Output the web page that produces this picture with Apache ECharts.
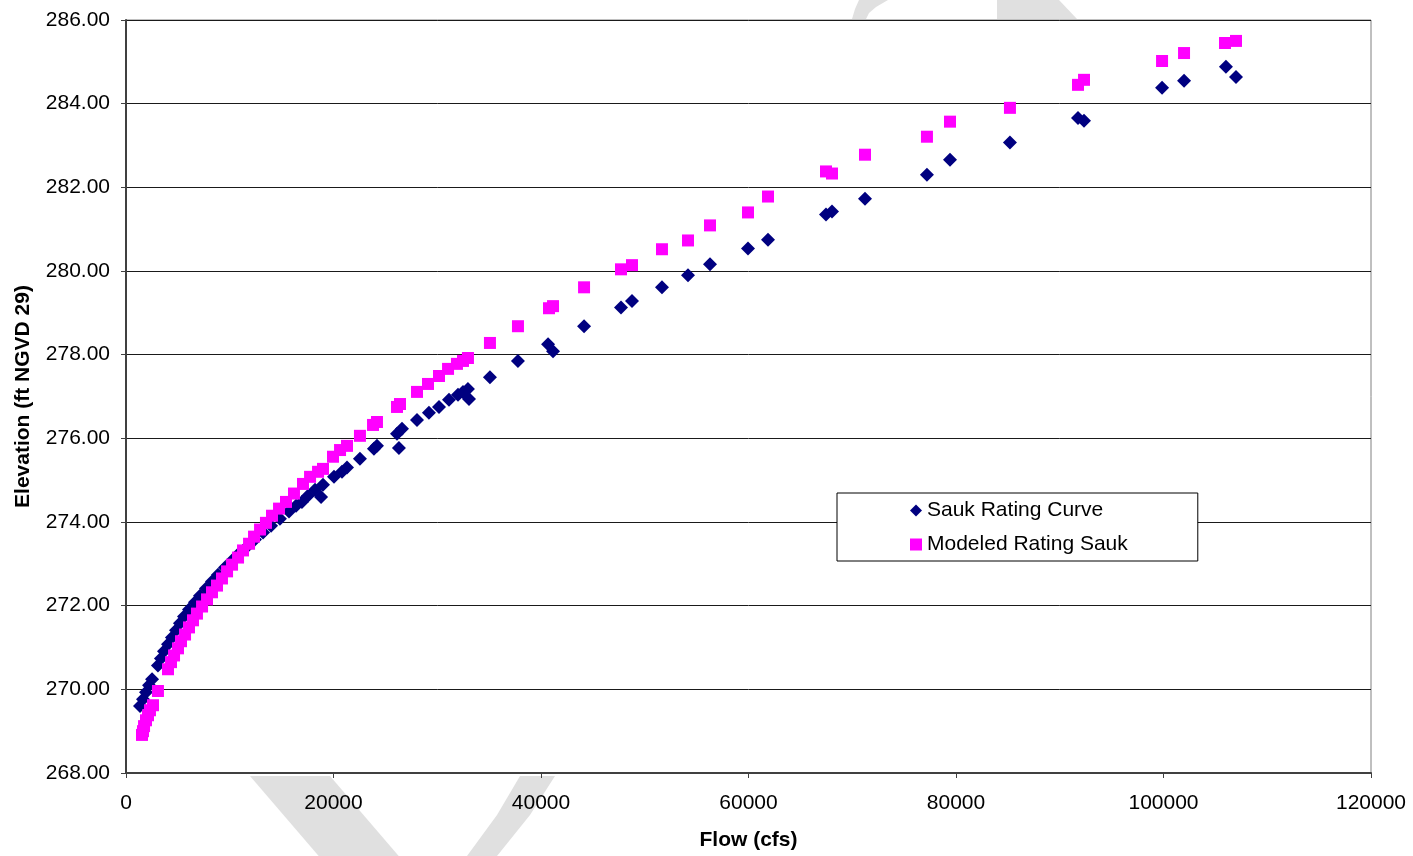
<!DOCTYPE html>
<html>
<head>
<meta charset="utf-8">
<title>Sauk Rating Curve</title>
<script src="https://cdn.jsdelivr.net/npm/echarts@6/dist/echarts.min.js"></script>
<style>
  html, body { margin: 0; padding: 0; background: #ffffff; }
  #chart { width: 1413px; height: 856px; }
</style>
</head>
<body>
<div id="chart"></div>
<script>
// Observed rating curve: flow (cfs) and stage (ft NGVD 29)
const saukFlow = [1350,1640,1930,2220,2510,3080,3370,3660,4050,4430,4820,5200,5590,6070,6650,
  7130,7710,8290,8870,9540,10220,10890,11660,12430,13210,13980,14840,15710,16390,16960,
  17540,18220,18990,18800,20050,20820,21300,22550,23900,24190,26310,26120,26600,28050,29200,
  30170,31130,32000,32480,32960,33060,35080,37780,40680,41160,44150,47710,48770,51660,54170,
  56290,59950,61880,67470,68050,71230,77200,79420,85200,91760,92340,99860,101980,106020,106990];
const saukElev = [269.60,269.76,269.93,270.10,270.24,270.57,270.74,270.91,271.08,271.24,271.41,271.58,271.74,271.91,272.08,
  272.24,272.41,272.58,272.74,272.91,273.08,273.25,273.41,273.58,273.75,273.91,274.08,274.25,274.39,274.48,
  274.63,274.77,274.89,274.60,275.08,275.20,275.30,275.51,275.75,275.82,275.77,276.11,276.23,276.44,276.61,
  276.75,276.92,277.04,277.11,277.18,276.94,277.46,277.85,278.25,278.08,278.68,279.13,279.28,279.61,279.90,
  280.16,280.54,280.75,281.35,281.42,281.73,282.30,282.66,283.07,283.66,283.59,284.38,284.55,284.88,284.64];

// Modeled rating: flow (cfs) and stage (ft NGVD 29)
const modeledFlow = [1540,1640,1740,1930,2120,2310,2600,3080,4050,4340,4630,5010,5300,5690,6070,
  6460,6840,7330,7810,8290,8770,9250,9740,10220,10800,11280,11860,12340,12920,13490,
  14070,14750,15420,16190,17060,17740,18510,18990,19950,20630,21300,22550,23810,24190,26120,
  26410,28050,29110,30170,31040,31900,32480,32960,35080,37780,40770,41160,44150,47710,48770,
  51660,54170,56290,59950,61880,67470,68050,71230,77200,79420,85200,91760,92340,99860,101980,
  105930,106990];
const modeledElev = [268.91,269.00,269.12,269.26,269.38,269.50,269.62,269.96,270.48,270.65,270.81,270.98,271.15,271.31,271.48,
  271.65,271.81,271.98,272.15,272.32,272.48,272.65,272.82,272.98,273.15,273.32,273.48,273.65,273.82,273.98,
  274.15,274.32,274.48,274.68,274.91,275.08,275.20,275.27,275.56,275.72,275.82,276.06,276.32,276.39,276.75,
  276.82,277.11,277.30,277.49,277.66,277.78,277.85,277.92,278.28,278.68,279.11,279.16,279.61,280.04,280.14,
  280.52,280.73,281.09,281.40,281.78,282.38,282.33,282.78,283.21,283.57,283.90,284.45,284.57,285.02,285.21,
  285.45,285.50];

// Axis settings
const flowTicks = { min: 0, max: 120000, interval: 20000 };
const elevTicks = { min: 268, max: 286, interval: 2 };

const seriesNames = ['Sauk Rating Curve', 'Modeled Rating Sauk'];

const pairs = (xs, ys) => xs.map((x, i) => [x, ys[i]]);

const FONT = "'Liberation Sans', Arial, Helvetica, sans-serif";
const SHADE = '#e0e0e0';

const chart = echarts.init(document.getElementById('chart'), null, { renderer: 'canvas' });

chart.setOption({
  animation: false,
  backgroundColor: '#ffffff',
  textStyle: { fontFamily: FONT },
  // light background shapes behind the plot area
  graphic: [
    { type: 'polygon', z: -10, silent: true,
      shape: { points: [[250, 776], [330, 776], [415, 875], [335, 875]] },
      style: { fill: SHADE } },
    { type: 'polygon', z: -10, silent: true,
      shape: { points: [[520, 776], [555, 776], [530, 815], [497, 856], [485, 875], [452, 875], [467, 856], [497, 815]] },
      style: { fill: SHADE } },
    { type: 'polygon', z: -10, silent: true,
      shape: { points: [[852, 19], [855, 9], [859, 0], [888, 0], [876, 7], [869, 13], [866, 19]] },
      style: { fill: SHADE } },
    { type: 'polygon', z: -10, silent: true,
      shape: { points: [[997, 19], [997, 0], [1059, 0], [1077, 19]] },
      style: { fill: SHADE } }
  ],
  grid: {
    left: 126, right: 42, top: 20, bottom: 81,
    show: true, backgroundColor: '#ffffff',
    borderColor: '#808080', borderWidth: 1
  },
  legend: {
    orient: 'vertical',
    left: 837, top: 493,
    padding: [7, 70, 6, 73],
    itemGap: 13,
    itemWidth: 12, itemHeight: 12,
    backgroundColor: '#ffffff',
    borderColor: '#000000', borderWidth: 1, borderRadius: 0,
    textStyle: { fontFamily: FONT, fontSize: 21, color: '#000000' },
    data: seriesNames
  },
  xAxis: {
    type: 'value',
    min: flowTicks.min, max: flowTicks.max, interval: flowTicks.interval,
    name: 'Flow (cfs)',
    nameLocation: 'middle', nameGap: 57,
    nameTextStyle: { fontFamily: FONT, fontSize: 21, fontWeight: 'bold', color: '#000000' },
    axisLine: { show: true, onZero: false, lineStyle: { color: '#404040', width: 2 } },
    axisTick: { show: true, inside: false, length: 5, lineStyle: { color: '#404040', width: 1 } },
    axisLabel: { fontFamily: FONT, fontSize: 21, color: '#000000', margin: 20,
      formatter: v => String(v) },
    splitLine: { show: false }
  },
  yAxis: {
    type: 'value',
    min: elevTicks.min, max: elevTicks.max, interval: elevTicks.interval,
    name: 'Elevation (ft NGVD 29)',
    nameLocation: 'middle', nameGap: 92, nameRotate: 90,
    nameTextStyle: { fontFamily: FONT, fontSize: 21, fontWeight: 'bold', color: '#000000' },
    axisLine: { show: true, onZero: false, lineStyle: { color: '#404040', width: 2 } },
    axisTick: { show: true, inside: false, length: 5, lineStyle: { color: '#404040', width: 1 } },
    axisLabel: { fontFamily: FONT, fontSize: 21, color: '#000000', margin: 16,
      formatter: v => v.toFixed(2) },
    splitLine: { show: true, lineStyle: { color: '#1a1a1a', width: 1 } }
  },
  series: [
    {
      name: seriesNames[0], type: 'scatter',
      symbol: 'diamond', symbolSize: 14,
      itemStyle: { color: '#000080', opacity: 1 },
      data: pairs(saukFlow, saukElev)
    },
    {
      name: seriesNames[1], type: 'scatter',
      symbol: 'rect', symbolSize: 12,
      itemStyle: { color: '#ff00ff', opacity: 1 },
      data: pairs(modeledFlow, modeledElev)
    }
  ]
});
</script>
</body>
</html>
